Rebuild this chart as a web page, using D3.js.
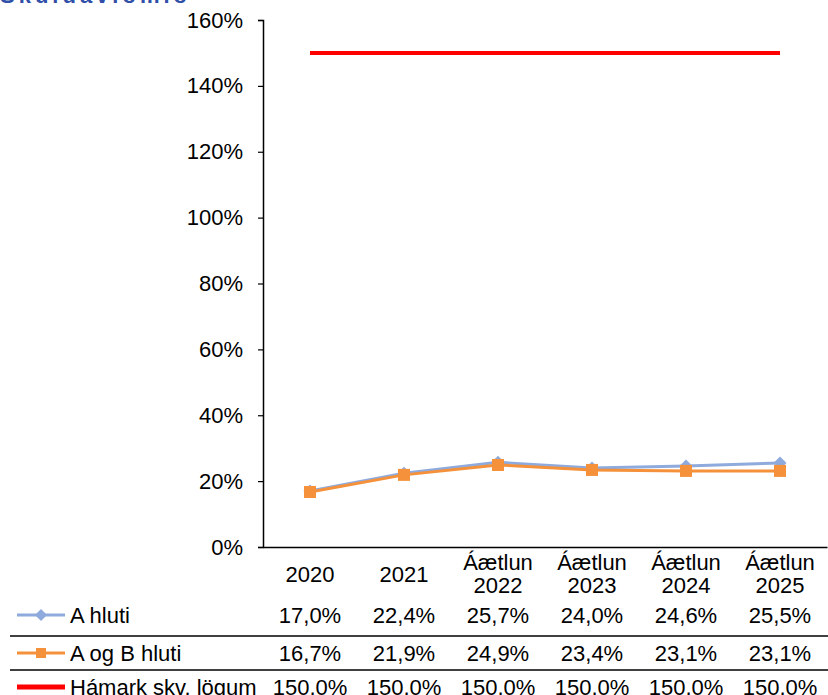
<!DOCTYPE html>
<html>
<head>
<meta charset="utf-8">
<script src="https://cdn.jsdelivr.net/npm/d3@7"></script>
<style>
  body { margin: 0; background: #fff; }
  text { font-family: "Liberation Sans", Arial, sans-serif; }
</style>
</head>
<body>
<script>
// Chart data
const categories = [["2020"], ["2021"], ["Áætlun", "2022"], ["Áætlun", "2023"], ["Áætlun", "2024"], ["Áætlun", "2025"]];
const aHluti = [17.0, 22.4, 25.7, 24.0, 24.6, 25.5];
const aogbHluti = [16.7, 21.9, 24.9, 23.4, 23.1, 23.1];
const hamark = [150.0, 150.0, 150.0, 150.0, 150.0, 150.0];
const yTicks = [0, 20, 40, 60, 80, 100, 120, 140, 160];

const seriesList = [
  { name: "A hluti", values: aHluti, color: "#8faadc", marker: "diamond" },
  { name: "A og B hluti", values: aogbHluti, color: "#f4913a", marker: "square" },
  { name: "Hámark skv. lögum", values: hamark, color: "#ff0000", marker: null }
];

// Drawing area
const w = 828;
const h = 695;
const plotLeft = 263;
const plotRight = 827;
const plotTop = 20;
const plotBottom = 547;
const fontSize = 22;

const svg = d3.select("body").append("svg").attr("width", w).attr("height", h);

// Title (cut off at the top in the original)
svg.append("text")
  .attr("x", 0)
  .attr("y", 3)
  .attr("fill", "#2f4fa8")
  .attr("font-weight", "bold")
  .attr("font-size", 22)
  .attr("textLength", 187)
  .text("Skuldaviðmið");

// Scales
const xScale = d3.scaleBand()
  .domain(d3.range(categories.length))
  .range([plotLeft, plotRight]);

const yScale = d3.scaleLinear()
  .domain([0, 160])
  .range([plotBottom, plotTop]);

const xMid = i => xScale(i) + xScale.bandwidth() / 2;

// Y axis
const yAxis = d3.axisLeft(yScale)
  .tickValues(yTicks)
  .tickSize(5)
  .tickPadding(15)
  .tickFormat(d => d + "%");

const yG = svg.append("g")
  .attr("transform", "translate(" + plotLeft + ",0)")
  .call(yAxis);
yG.select(".domain").attr("stroke", "#000").attr("stroke-width", 1.5);
yG.selectAll(".tick line").attr("stroke", "#000").attr("stroke-width", 1.2);
yG.selectAll("text")
  .attr("font-size", fontSize)
  .attr("font-family", "Liberation Sans, Arial, sans-serif")
  .attr("fill", "#000");

// X axis (just a line, no ticks)
const xAxis = d3.axisBottom(xScale).tickSize(0).tickFormat("");
const xG = svg.append("g")
  .attr("transform", "translate(0," + plotBottom + ")")
  .call(xAxis);
xG.select(".domain").attr("stroke", "#000").attr("stroke-width", 1.5);

// Category labels
categories.forEach((lines, i) => {
  const t = svg.append("text")
    .attr("x", xMid(i))
    .attr("text-anchor", "middle")
    .attr("font-size", fontSize)
    .attr("fill", "#000");
  const startY = lines.length === 1 ? 582 : 570;
  lines.forEach((ln, j) => {
    t.append("tspan").attr("x", xMid(i)).attr("y", startY + j * 23).text(ln);
  });
});

// Lines
const line = d3.line()
  .x((d, i) => xMid(i))
  .y(d => yScale(d));

seriesList.forEach(s => {
  svg.append("path")
    .datum(s.values)
    .attr("fill", "none")
    .attr("stroke", s.color)
    .attr("stroke-width", s.marker ? 3 : 4)
    .attr("d", line);
});

// Markers
function drawMarker(g, type, color, x, y, size) {
  if (type === "diamond") {
    g.append("path")
      .attr("d", d3.symbol().type(d3.symbolDiamond2).size(size * size * 0.55))
      .attr("transform", "translate(" + x + "," + y + ")")
      .attr("fill", color);
  } else if (type === "square") {
    g.append("rect")
      .attr("x", x - size / 2)
      .attr("y", y - size / 2)
      .attr("width", size)
      .attr("height", size)
      .attr("fill", color);
  }
}

seriesList.forEach(s => {
  if (!s.marker) return;
  const g = svg.append("g");
  s.values.forEach((v, i) => {
    drawMarker(g, s.marker, s.color, xMid(i), yScale(v), s.marker === "square" ? 12 : 14);
  });
});

// Data table below the chart
const rowY = [615, 653, 687];
const rowLines = [636, 670];

rowLines.forEach(y => {
  svg.append("line")
    .attr("x1", 10).attr("x2", w)
    .attr("y1", y).attr("y2", y)
    .attr("stroke", "#000")
    .attr("stroke-width", 1.5);
});

const fmt = v => d3.format(".1f")(v).replace(".", ",") + "%";

seriesList.forEach((s, r) => {
  const y = rowY[r];
  // legend key
  svg.append("line")
    .attr("x1", 17).attr("x2", 65)
    .attr("y1", y).attr("y2", y)
    .attr("stroke", s.color)
    .attr("stroke-width", s.marker ? 3 : 5);
  if (s.marker) drawMarker(svg, s.marker, s.color, 41, y, s.marker === "square" ? 10 : 13);

  svg.append("text")
    .attr("x", 70)
    .attr("y", y)
    .attr("dy", "0.35em")
    .attr("font-size", fontSize)
    .attr("fill", "#000")
    .text(s.name);

  s.values.forEach((v, i) => {
    svg.append("text")
      .attr("x", xMid(i))
      .attr("y", y)
      .attr("dy", "0.35em")
      .attr("text-anchor", "middle")
      .attr("font-size", fontSize)
      .attr("fill", "#000")
      .text(fmt(v));
  });
});
</script>
</body>
</html>
